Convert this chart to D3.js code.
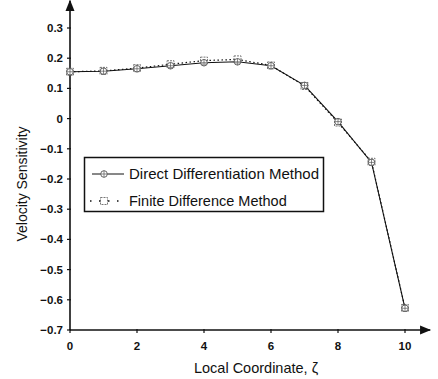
<!DOCTYPE html>
<html>
<head>
<meta charset="utf-8">
<script src="https://cdn.jsdelivr.net/npm/d3@7"></script>
<style>
body{margin:0;background:#fff;}
svg{display:block;}
text{font-family:"Liberation Sans",Arial,sans-serif;fill:#111;}
</style>
</head>
<body>
<svg id="c" width="438" height="379"></svg>
<script>
const xs = [0,1,2,3,4,5,6,7,8,9,10];
const ddm = [0.155,0.157,0.165,0.175,0.185,0.188,0.175,0.110,-0.010,-0.145,-0.628];
const fdm = [0.155,0.158,0.167,0.180,0.192,0.196,0.176,0.108,-0.013,-0.143,-0.627];
const xTicks = [0,2,4,6,8,10];
const yTicks = [0.3,0.2,0.1,0,-0.1,-0.2,-0.3,-0.4,-0.5,-0.6,-0.7];
const seriesNames = ["Direct Differentiation Method","Finite Difference Method"];

const svg = d3.select("#c");
const x = d3.scaleLinear().domain([0,10]).range([70,405]);
const y = d3.scaleLinear().domain([-0.7,0.3]).range([330,28]);
const ink = "#111";

svg.append("defs").append("marker").attr("id","arr").attr("viewBox","0 0 10 10")
  .attr("refX",9).attr("refY",5).attr("markerWidth",7).attr("markerHeight",7)
  .attr("orient","auto").append("path").attr("d","M0,1L10,5L0,9z").attr("fill",ink);

svg.append("line").attr("x1",x(0)).attr("x2",x(10.75)).attr("y1",y(-0.7)).attr("y2",y(-0.7))
  .attr("stroke",ink).attr("stroke-width",1.6).attr("marker-end","url(#arr)");
svg.append("line").attr("x1",x(0)).attr("x2",x(0)).attr("y1",y(-0.7)).attr("y2",y(0.39))
  .attr("stroke",ink).attr("stroke-width",1.6).attr("marker-end","url(#arr)");

const yAx = svg.append("g");
yTicks.forEach(v=>{
  yAx.append("line").attr("x1",x(0)-3).attr("x2",x(0)+1).attr("y1",y(v)).attr("y2",y(v)).attr("stroke",ink).attr("stroke-width",1.2);
  yAx.append("text").attr("x",x(0)-7).attr("y",y(v)+4).attr("text-anchor","end")
    .attr("font-size",11.5).attr("font-weight","bold").text(v===0?"0":d3.format(".1f")(v));
});
const xAx = svg.append("g");
xTicks.forEach(v=>{
  xAx.append("line").attr("x1",x(v)).attr("x2",x(v)).attr("y1",y(-0.7)-1).attr("y2",y(-0.7)+3).attr("stroke",ink).attr("stroke-width",1.2);
  xAx.append("text").attr("x",x(v)).attr("y",y(-0.7)+20).attr("text-anchor","middle")
    .attr("font-size",11.5).attr("font-weight","bold").text(v);
});

svg.append("text").attr("x",256).attr("y",373).attr("text-anchor","middle").attr("font-size",14.5).text("Local Coordinate, ζ");
svg.append("text").attr("transform","translate(27,184) rotate(-90)").attr("text-anchor","middle").attr("font-size",14).text("Velocity Sensitivity");

const line = d3.line().x((d,i)=>x(xs[i])).y(d=>y(d));
svg.append("path").attr("d",line(ddm)).attr("fill","none").attr("stroke",ink).attr("stroke-width",1.1);
svg.append("path").attr("d",line(fdm)).attr("fill","none").attr("stroke",ink).attr("stroke-width",1.2).attr("stroke-dasharray","1.5,2.5");

function ddmMarker(g,cx,cy){
  g.append("circle").attr("cx",cx).attr("cy",cy).attr("r",3.3).attr("fill","#fff").attr("stroke","#555").attr("stroke-width",0.9);
  g.append("path").attr("d",`M${cx-3.3},${cy}H${cx+3.3}M${cx},${cy-3.3}V${cy+3.3}`).attr("stroke","#555").attr("stroke-width",0.7);
}
function fdmMarker(g,cx,cy){
  g.append("rect").attr("x",cx-3.5).attr("y",cy-3.5).attr("width",7).attr("height",7).attr("fill","none").attr("stroke","#666").attr("stroke-width",0.9).attr("stroke-dasharray","2,1");
}
const mg = svg.append("g");
xs.forEach((v,i)=>{ ddmMarker(mg,x(v),y(ddm[i])); });
xs.forEach((v,i)=>{ fdmMarker(mg,x(v),y(fdm[i])); });

const lg = svg.append("g");
lg.append("rect").attr("x",84.5).attr("y",157.5).attr("width",239).attr("height",54).attr("fill","#fff").attr("stroke",ink).attr("stroke-width",1.5);
lg.append("line").attr("x1",92).attr("x2",124).attr("y1",174).attr("y2",174).attr("stroke",ink).attr("stroke-width",1);
ddmMarker(lg,104,174);
lg.append("text").attr("x",129).attr("y",179).attr("font-size",14.5).attr("textLength",190).attr("lengthAdjust","spacingAndGlyphs").text(seriesNames[0]);
lg.append("line").attr("x1",90).attr("x2",124).attr("y1",201).attr("y2",201).attr("stroke",ink).attr("stroke-width",1.5).attr("stroke-dasharray","1.5,7.5");
fdmMarker(lg,104,201);
lg.append("text").attr("x",129).attr("y",206).attr("font-size",14.5).text(seriesNames[1]);
</script>
</body>
</html>
